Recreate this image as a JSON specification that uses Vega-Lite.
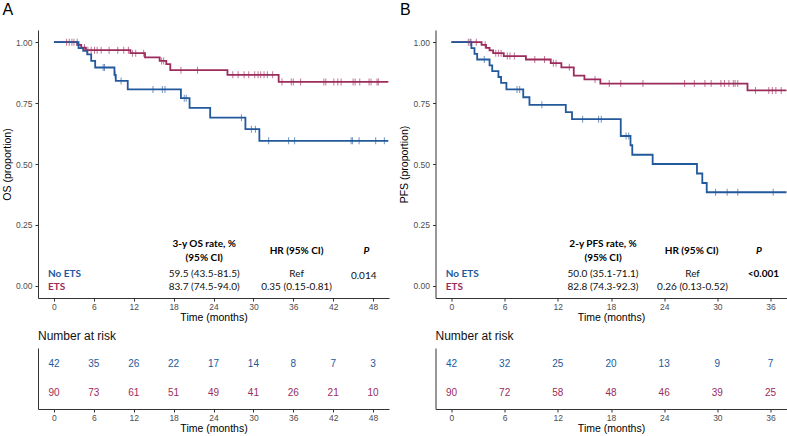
{
  "$schema": "https://vega.github.io/schema/vega-lite/v6.json",
  "background": "white",
  "padding": {"left": 2, "top": 2, "right": 0, "bottom": 0},
  "columns": 2,
  "spacing": {"row": 50, "column": 46.5},
  "bounds": "flush",
  "config": {
    "view": {"stroke": null},
    "axis": {
      "grid": false,
      "domainColor": "#333333",
      "domainWidth": 1,
      "tickColor": "#333333",
      "tickWidth": 1,
      "tickSize": 3,
      "labelColor": "#4d4d4d",
      "labelFont": "Liberation Sans",
      "labelFontSize": 8.5,
      "titleFont": "Liberation Sans",
      "titleFontSize": 10.5,
      "titleFontWeight": "normal",
      "titleColor": "#000000"
    }
  },
  "datasets": {
    "stepsA": [
      {"group": "ETS", "t": 0, "s": 1.0}, {"group": "ETS", "t": 3.5, "s": 0.989}, {"group": "ETS", "t": 4.1, "s": 0.978},
      {"group": "ETS", "t": 4.8, "s": 0.967}, {"group": "ETS", "t": 11.5, "s": 0.955}, {"group": "ETS", "t": 13.7, "s": 0.938},
      {"group": "ETS", "t": 15.9, "s": 0.923}, {"group": "ETS", "t": 16.9, "s": 0.91}, {"group": "ETS", "t": 17.5, "s": 0.885},
      {"group": "ETS", "t": 26.1, "s": 0.866}, {"group": "ETS", "t": 33.8, "s": 0.837}, {"group": "ETS", "t": 50.3, "s": 0.837},
      {"group": "No ETS", "t": 0, "s": 1.0}, {"group": "No ETS", "t": 3.7, "s": 0.976}, {"group": "No ETS", "t": 4.4, "s": 0.964},
      {"group": "No ETS", "t": 5.0, "s": 0.95}, {"group": "No ETS", "t": 5.6, "s": 0.923}, {"group": "No ETS", "t": 6.2, "s": 0.896},
      {"group": "No ETS", "t": 9.1, "s": 0.866}, {"group": "No ETS", "t": 9.3, "s": 0.841}, {"group": "No ETS", "t": 11.1, "s": 0.806},
      {"group": "No ETS", "t": 19.1, "s": 0.77}, {"group": "No ETS", "t": 20.4, "s": 0.73}, {"group": "No ETS", "t": 23.5, "s": 0.69},
      {"group": "No ETS", "t": 28.8, "s": 0.643}, {"group": "No ETS", "t": 30.9, "s": 0.595}, {"group": "No ETS", "t": 50.3, "s": 0.595}
    ],
    "censA": [
      {"group": "ETS", "t": 1.9, "s": 1.0}, {"group": "ETS", "t": 2.3, "s": 1.0}, {"group": "ETS", "t": 2.7, "s": 1.0}, {"group": "ETS", "t": 3.0, "s": 1.0},
      {"group": "ETS", "t": 4.6, "s": 0.978}, {"group": "ETS", "t": 5.1, "s": 0.967}, {"group": "ETS", "t": 5.6, "s": 0.967}, {"group": "ETS", "t": 6.1, "s": 0.967},
      {"group": "ETS", "t": 6.5, "s": 0.967}, {"group": "ETS", "t": 7.1, "s": 0.967}, {"group": "ETS", "t": 8.3, "s": 0.967}, {"group": "ETS", "t": 9.6, "s": 0.967},
      {"group": "ETS", "t": 10.5, "s": 0.967}, {"group": "ETS", "t": 11.2, "s": 0.967}, {"group": "ETS", "t": 11.8, "s": 0.955}, {"group": "ETS", "t": 12.3, "s": 0.955},
      {"group": "ETS", "t": 13.5, "s": 0.955}, {"group": "ETS", "t": 16.2, "s": 0.923}, {"group": "ETS", "t": 16.5, "s": 0.923}, {"group": "ETS", "t": 19.1, "s": 0.885},
      {"group": "ETS", "t": 21.6, "s": 0.885}, {"group": "ETS", "t": 26.9, "s": 0.866}, {"group": "ETS", "t": 27.7, "s": 0.866}, {"group": "ETS", "t": 28.6, "s": 0.866},
      {"group": "ETS", "t": 29.3, "s": 0.866}, {"group": "ETS", "t": 30.2, "s": 0.866}, {"group": "ETS", "t": 30.7, "s": 0.866}, {"group": "ETS", "t": 31.1, "s": 0.866},
      {"group": "ETS", "t": 31.6, "s": 0.866}, {"group": "ETS", "t": 32.1, "s": 0.866}, {"group": "ETS", "t": 32.9, "s": 0.866}, {"group": "ETS", "t": 34.3, "s": 0.837},
      {"group": "ETS", "t": 35.7, "s": 0.837}, {"group": "ETS", "t": 36.0, "s": 0.837}, {"group": "ETS", "t": 37.1, "s": 0.837}, {"group": "ETS", "t": 40.6, "s": 0.837},
      {"group": "ETS", "t": 40.9, "s": 0.837}, {"group": "ETS", "t": 42.1, "s": 0.837}, {"group": "ETS", "t": 42.7, "s": 0.837}, {"group": "ETS", "t": 43.2, "s": 0.837},
      {"group": "ETS", "t": 45.0, "s": 0.837}, {"group": "ETS", "t": 45.3, "s": 0.837}, {"group": "ETS", "t": 46.0, "s": 0.837}, {"group": "ETS", "t": 47.4, "s": 0.837},
      {"group": "ETS", "t": 47.7, "s": 0.837}, {"group": "ETS", "t": 48.6, "s": 0.837}, {"group": "ETS", "t": 48.8, "s": 0.837},
      {"group": "No ETS", "t": 3.5, "s": 1.0}, {"group": "No ETS", "t": 7.4, "s": 0.896}, {"group": "No ETS", "t": 7.6, "s": 0.896}, {"group": "No ETS", "t": 9.2, "s": 0.866},
      {"group": "No ETS", "t": 10.1, "s": 0.841}, {"group": "No ETS", "t": 14.9, "s": 0.806}, {"group": "No ETS", "t": 16.3, "s": 0.806}, {"group": "No ETS", "t": 16.7, "s": 0.806},
      {"group": "No ETS", "t": 19.6, "s": 0.77}, {"group": "No ETS", "t": 19.9, "s": 0.77}, {"group": "No ETS", "t": 28.2, "s": 0.69}, {"group": "No ETS", "t": 29.7, "s": 0.643},
      {"group": "No ETS", "t": 30.3, "s": 0.643}, {"group": "No ETS", "t": 32.3, "s": 0.595}, {"group": "No ETS", "t": 35.3, "s": 0.595}, {"group": "No ETS", "t": 36.2, "s": 0.595},
      {"group": "No ETS", "t": 44.7, "s": 0.595}, {"group": "No ETS", "t": 44.9, "s": 0.595}, {"group": "No ETS", "t": 45.9, "s": 0.595}, {"group": "No ETS", "t": 48.4, "s": 0.595},
      {"group": "No ETS", "t": 49.7, "s": 0.595}
    ],
    "annA": [
      {"kind": "head", "t": 22.6, "s": 0.172, "label": "3-y OS rate, %"},
      {"kind": "head", "t": 22.6, "s": 0.115, "label": "(95% CI)"},
      {"kind": "head", "t": 36.5, "s": 0.143, "label": "HR  (95% CI)"},
      {"kind": "p", "t": 47.0, "s": 0.143, "label": "P"},
      {"kind": "grp", "t": -0.9, "s": 0.049, "label": "No ETS", "group": "No ETS"},
      {"kind": "grp", "t": -0.9, "s": -0.004, "label": "ETS", "group": "ETS"},
      {"kind": "val", "t": 22.6, "s": 0.049, "label": "59.5 (43.5-81.5)"},
      {"kind": "val", "t": 22.6, "s": -0.004, "label": "83.7 (74.5-94.0)"},
      {"kind": "val", "t": 36.5, "s": 0.049, "label": "Ref"},
      {"kind": "val", "t": 36.5, "s": -0.004, "label": "0.35 (0.15-0.81)"},
      {"kind": "val", "t": 46.6, "s": 0.041, "label": "0.014"}
    ],
    "riskA": [
      {"group": "No ETS", "t": 0, "n": 42}, {"group": "No ETS", "t": 6, "n": 35}, {"group": "No ETS", "t": 12, "n": 26},
      {"group": "No ETS", "t": 18, "n": 22}, {"group": "No ETS", "t": 24, "n": 17}, {"group": "No ETS", "t": 30, "n": 14},
      {"group": "No ETS", "t": 36, "n": 8}, {"group": "No ETS", "t": 42, "n": 7}, {"group": "No ETS", "t": 48, "n": 3},
      {"group": "ETS", "t": 0, "n": 90}, {"group": "ETS", "t": 6, "n": 73}, {"group": "ETS", "t": 12, "n": 61},
      {"group": "ETS", "t": 18, "n": 51}, {"group": "ETS", "t": 24, "n": 49}, {"group": "ETS", "t": 30, "n": 41},
      {"group": "ETS", "t": 36, "n": 26}, {"group": "ETS", "t": 42, "n": 21}, {"group": "ETS", "t": 48, "n": 10}
    ],
    "stepsB": [
      {"group": "ETS", "t": 0, "s": 1.0}, {"group": "ETS", "t": 3.4, "s": 0.989}, {"group": "ETS", "t": 3.9, "s": 0.977},
      {"group": "ETS", "t": 4.3, "s": 0.966}, {"group": "ETS", "t": 4.7, "s": 0.955}, {"group": "ETS", "t": 5.9, "s": 0.943},
      {"group": "ETS", "t": 8.4, "s": 0.929}, {"group": "ETS", "t": 11.2, "s": 0.914}, {"group": "ETS", "t": 12.4, "s": 0.897},
      {"group": "ETS", "t": 13.8, "s": 0.863}, {"group": "ETS", "t": 15.0, "s": 0.847}, {"group": "ETS", "t": 16.8, "s": 0.83},
      {"group": "ETS", "t": 33.4, "s": 0.802}, {"group": "ETS", "t": 37.8, "s": 0.802},
      {"group": "No ETS", "t": 0, "s": 1.0}, {"group": "No ETS", "t": 2.25, "s": 0.976}, {"group": "No ETS", "t": 2.6, "s": 0.952},
      {"group": "No ETS", "t": 2.9, "s": 0.929}, {"group": "No ETS", "t": 4.3, "s": 0.905}, {"group": "No ETS", "t": 4.6, "s": 0.881},
      {"group": "No ETS", "t": 5.3, "s": 0.857}, {"group": "No ETS", "t": 5.6, "s": 0.833}, {"group": "No ETS", "t": 6.2, "s": 0.806},
      {"group": "No ETS", "t": 8.1, "s": 0.774}, {"group": "No ETS", "t": 8.8, "s": 0.743}, {"group": "No ETS", "t": 12.9, "s": 0.713},
      {"group": "No ETS", "t": 13.6, "s": 0.684}, {"group": "No ETS", "t": 19.1, "s": 0.615}, {"group": "No ETS", "t": 20.2, "s": 0.577},
      {"group": "No ETS", "t": 20.4, "s": 0.538}, {"group": "No ETS", "t": 22.7, "s": 0.5}, {"group": "No ETS", "t": 27.7, "s": 0.461},
      {"group": "No ETS", "t": 28.3, "s": 0.422}, {"group": "No ETS", "t": 28.8, "s": 0.384}, {"group": "No ETS", "t": 37.8, "s": 0.384}
    ],
    "censB": [
      {"group": "ETS", "t": 1.9, "s": 1.0}, {"group": "ETS", "t": 2.2, "s": 1.0}, {"group": "ETS", "t": 2.8, "s": 1.0}, {"group": "ETS", "t": 3.8, "s": 0.989},
      {"group": "ETS", "t": 5.0, "s": 0.955}, {"group": "ETS", "t": 5.3, "s": 0.955}, {"group": "ETS", "t": 5.6, "s": 0.955}, {"group": "ETS", "t": 6.3, "s": 0.943},
      {"group": "ETS", "t": 6.6, "s": 0.943}, {"group": "ETS", "t": 7.1, "s": 0.943}, {"group": "ETS", "t": 9.4, "s": 0.929}, {"group": "ETS", "t": 10.5, "s": 0.929},
      {"group": "ETS", "t": 11.5, "s": 0.914}, {"group": "ETS", "t": 11.8, "s": 0.914}, {"group": "ETS", "t": 13.3, "s": 0.897}, {"group": "ETS", "t": 16.2, "s": 0.847},
      {"group": "ETS", "t": 17.8, "s": 0.83}, {"group": "ETS", "t": 19.1, "s": 0.83}, {"group": "ETS", "t": 21.6, "s": 0.83}, {"group": "ETS", "t": 26.3, "s": 0.83},
      {"group": "ETS", "t": 27.4, "s": 0.83}, {"group": "ETS", "t": 28.6, "s": 0.83}, {"group": "ETS", "t": 29.3, "s": 0.83}, {"group": "ETS", "t": 30.4, "s": 0.83},
      {"group": "ETS", "t": 30.8, "s": 0.83}, {"group": "ETS", "t": 31.3, "s": 0.83}, {"group": "ETS", "t": 31.8, "s": 0.83}, {"group": "ETS", "t": 32.0, "s": 0.83},
      {"group": "ETS", "t": 32.3, "s": 0.83}, {"group": "ETS", "t": 34.3, "s": 0.802}, {"group": "ETS", "t": 35.8, "s": 0.802}, {"group": "ETS", "t": 36.2, "s": 0.802},
      {"group": "ETS", "t": 36.6, "s": 0.802}, {"group": "ETS", "t": 37.2, "s": 0.802},
      {"group": "No ETS", "t": 2.1, "s": 1.0}, {"group": "No ETS", "t": 3.7, "s": 0.929}, {"group": "No ETS", "t": 7.4, "s": 0.806}, {"group": "No ETS", "t": 7.7, "s": 0.806},
      {"group": "No ETS", "t": 10.2, "s": 0.743}, {"group": "No ETS", "t": 14.8, "s": 0.684}, {"group": "No ETS", "t": 16.6, "s": 0.684}, {"group": "No ETS", "t": 16.9, "s": 0.684},
      {"group": "No ETS", "t": 19.7, "s": 0.615}, {"group": "No ETS", "t": 20.0, "s": 0.615}, {"group": "No ETS", "t": 29.8, "s": 0.384}, {"group": "No ETS", "t": 31.1, "s": 0.384},
      {"group": "No ETS", "t": 32.3, "s": 0.384}, {"group": "No ETS", "t": 36.3, "s": 0.384}
    ],
    "annB": [
      {"kind": "head", "t": 17.1, "s": 0.172, "label": "2-y PFS rate, %"},
      {"kind": "head", "t": 17.1, "s": 0.115, "label": "(95% CI)"},
      {"kind": "head", "t": 27.1, "s": 0.143, "label": "HR  (95% CI)"},
      {"kind": "p", "t": 34.7, "s": 0.143, "label": "P"},
      {"kind": "grp", "t": -0.64, "s": 0.049, "label": "No ETS", "group": "No ETS"},
      {"kind": "grp", "t": -0.64, "s": -0.004, "label": "ETS", "group": "ETS"},
      {"kind": "val", "t": 17.1, "s": 0.049, "label": "50.0 (35.1-71.1)"},
      {"kind": "val", "t": 17.1, "s": -0.004, "label": "82.8 (74.3-92.3)"},
      {"kind": "val", "t": 27.2, "s": 0.049, "label": "Ref"},
      {"kind": "val", "t": 27.2, "s": -0.004, "label": "0.26 (0.13-0.52)"},
      {"kind": "head", "t": 35.2, "s": 0.049, "label": "<0.001"}
    ],
    "riskB": [
      {"group": "No ETS", "t": 0, "n": 42}, {"group": "No ETS", "t": 6, "n": 32}, {"group": "No ETS", "t": 12, "n": 25},
      {"group": "No ETS", "t": 18, "n": 20}, {"group": "No ETS", "t": 24, "n": 13}, {"group": "No ETS", "t": 30, "n": 9},
      {"group": "No ETS", "t": 36, "n": 7},
      {"group": "ETS", "t": 0, "n": 90}, {"group": "ETS", "t": 6, "n": 72}, {"group": "ETS", "t": 12, "n": 58},
      {"group": "ETS", "t": 18, "n": 48}, {"group": "ETS", "t": 24, "n": 46}, {"group": "ETS", "t": 30, "n": 39},
      {"group": "ETS", "t": 36, "n": 25}
    ]
  },
  "concat": [
    {
      "width": 351, "height": 268,
      "title": {"text": "A", "anchor": "start", "frame": "bounds", "fontSize": 16, "fontWeight": "normal", "font": "Liberation Sans", "color": "#000000", "offset": 12},
      "layer": [
        {
          "data": {"name": "stepsA"},
          "mark": {"type": "line", "interpolate": "step-after", "strokeWidth": 1.8},
          "encoding": {
            "x": {"field": "t", "type": "quantitative", "scale": {"domain": [-2.4, 50.4], "nice": false, "zero": false},
                  "axis": {"values": [0, 6, 12, 18, 24, 30, 36, 42, 48], "title": "Time (months)", "labelPadding": 1, "titlePadding": 2}},
            "y": {"field": "s", "type": "quantitative", "scale": {"domain": [-0.05, 1.05], "nice": false, "zero": false},
                  "axis": {"values": [0, 0.25, 0.5, 0.75, 1], "format": ".2f", "title": "OS (proportion)", "labelPadding": 3, "titlePadding": 3}},
            "color": {"field": "group", "type": "nominal", "scale": {"domain": ["No ETS", "ETS"], "range": ["#22599c", "#9c2b5c"]}, "legend": null}
          }
        },
        {
          "data": {"name": "censA"},
          "mark": {"type": "tick", "orient": "vertical", "size": 7, "thickness": 1, "opacity": 0.65},
          "encoding": {
            "x": {"field": "t", "type": "quantitative"},
            "y": {"field": "s", "type": "quantitative"},
            "color": {"field": "group", "type": "nominal", "legend": null}
          }
        },
        {
          "data": {"name": "annA"},
          "transform": [{"filter": "datum.kind == 'head'"}],
          "mark": {"type": "text", "font": "Lato", "fontSize": 10, "fontWeight": "bold", "align": "center", "baseline": "middle", "color": "#000000"},
          "encoding": {"x": {"field": "t", "type": "quantitative"}, "y": {"field": "s", "type": "quantitative"}, "text": {"field": "label"}}
        },
        {
          "data": {"name": "annA"},
          "transform": [{"filter": "datum.kind == 'p'"}],
          "mark": {"type": "text", "font": "Lato", "fontSize": 10, "fontWeight": "bold", "fontStyle": "italic", "align": "center", "baseline": "middle", "color": "#000000"},
          "encoding": {"x": {"field": "t", "type": "quantitative"}, "y": {"field": "s", "type": "quantitative"}, "text": {"field": "label"}}
        },
        {
          "data": {"name": "annA"},
          "transform": [{"filter": "datum.kind == 'val'"}],
          "mark": {"type": "text", "font": "Lato", "fontSize": 10, "align": "center", "baseline": "middle", "color": "#111111"},
          "encoding": {"x": {"field": "t", "type": "quantitative"}, "y": {"field": "s", "type": "quantitative"}, "text": {"field": "label"}}
        },
        {
          "data": {"name": "annA"},
          "transform": [{"filter": "datum.kind == 'grp'"}],
          "mark": {"type": "text", "font": "Lato", "fontSize": 10, "fontWeight": "bold", "align": "left", "baseline": "middle"},
          "encoding": {"x": {"field": "t", "type": "quantitative"}, "y": {"field": "s", "type": "quantitative"}, "text": {"field": "label"},
                       "color": {"field": "group", "type": "nominal", "legend": null}}
        }
      ]
    },
    {
      "width": 351, "height": 268,
      "title": {"text": "B", "anchor": "start", "frame": "bounds", "fontSize": 16, "fontWeight": "normal", "font": "Liberation Sans", "color": "#000000", "offset": 12},
      "layer": [
        {
          "data": {"name": "stepsB"},
          "mark": {"type": "line", "interpolate": "step-after", "strokeWidth": 1.8},
          "encoding": {
            "x": {"field": "t", "type": "quantitative", "scale": {"domain": [-1.8, 37.8], "nice": false, "zero": false},
                  "axis": {"values": [0, 6, 12, 18, 24, 30, 36], "title": "Time (months)", "labelPadding": 1, "titlePadding": 2}},
            "y": {"field": "s", "type": "quantitative", "scale": {"domain": [-0.05, 1.05], "nice": false, "zero": false},
                  "axis": {"values": [0, 0.25, 0.5, 0.75, 1], "format": ".2f", "title": "PFS (proportion)", "labelPadding": 3, "titlePadding": 3}},
            "color": {"field": "group", "type": "nominal", "scale": {"domain": ["No ETS", "ETS"], "range": ["#22599c", "#9c2b5c"]}, "legend": null}
          }
        },
        {
          "data": {"name": "censB"},
          "mark": {"type": "tick", "orient": "vertical", "size": 7, "thickness": 1, "opacity": 0.65},
          "encoding": {
            "x": {"field": "t", "type": "quantitative"},
            "y": {"field": "s", "type": "quantitative"},
            "color": {"field": "group", "type": "nominal", "legend": null}
          }
        },
        {
          "data": {"name": "annB"},
          "transform": [{"filter": "datum.kind == 'head'"}],
          "mark": {"type": "text", "font": "Lato", "fontSize": 10, "fontWeight": "bold", "align": "center", "baseline": "middle", "color": "#000000"},
          "encoding": {"x": {"field": "t", "type": "quantitative"}, "y": {"field": "s", "type": "quantitative"}, "text": {"field": "label"}}
        },
        {
          "data": {"name": "annB"},
          "transform": [{"filter": "datum.kind == 'p'"}],
          "mark": {"type": "text", "font": "Lato", "fontSize": 10, "fontWeight": "bold", "fontStyle": "italic", "align": "center", "baseline": "middle", "color": "#000000"},
          "encoding": {"x": {"field": "t", "type": "quantitative"}, "y": {"field": "s", "type": "quantitative"}, "text": {"field": "label"}}
        },
        {
          "data": {"name": "annB"},
          "transform": [{"filter": "datum.kind == 'val'"}],
          "mark": {"type": "text", "font": "Lato", "fontSize": 10, "align": "center", "baseline": "middle", "color": "#111111"},
          "encoding": {"x": {"field": "t", "type": "quantitative"}, "y": {"field": "s", "type": "quantitative"}, "text": {"field": "label"}}
        },
        {
          "data": {"name": "annB"},
          "transform": [{"filter": "datum.kind == 'grp'"}],
          "mark": {"type": "text", "font": "Lato", "fontSize": 10, "fontWeight": "bold", "align": "left", "baseline": "middle"},
          "encoding": {"x": {"field": "t", "type": "quantitative"}, "y": {"field": "s", "type": "quantitative"}, "text": {"field": "label"},
                       "color": {"field": "group", "type": "nominal", "legend": null}}
        }
      ]
    },
    {
      "width": 351, "height": 61,
      "title": {"text": "Number at risk", "anchor": "start", "frame": "group", "fontSize": 12, "fontWeight": "normal", "font": "Liberation Sans", "color": "#111111", "offset": 5},
      "data": {"name": "riskA"},
      "mark": {"type": "text", "font": "Liberation Sans", "fontSize": 10},
      "encoding": {
        "x": {"field": "t", "type": "quantitative", "scale": {"domain": [-2.4, 50.4], "nice": false, "zero": false},
              "axis": {"values": [0, 6, 12, 18, 24, 30, 36, 42, 48], "title": "Time (months)", "labelPadding": 1, "titlePadding": 2}},
        "y": {"field": "group", "type": "nominal", "sort": ["No ETS", "ETS"], "scale": {"padding": 0.58},
              "axis": {"labels": false, "ticks": false, "title": null, "domain": true}},
        "text": {"field": "n", "type": "quantitative"},
        "color": {"field": "group", "type": "nominal", "legend": null}
      }
    },
    {
      "width": 351, "height": 61,
      "title": {"text": "Number at risk", "anchor": "start", "frame": "group", "fontSize": 12, "fontWeight": "normal", "font": "Liberation Sans", "color": "#111111", "offset": 5},
      "data": {"name": "riskB"},
      "mark": {"type": "text", "font": "Liberation Sans", "fontSize": 10},
      "encoding": {
        "x": {"field": "t", "type": "quantitative", "scale": {"domain": [-1.8, 37.8], "nice": false, "zero": false},
              "axis": {"values": [0, 6, 12, 18, 24, 30, 36], "title": "Time (months)", "labelPadding": 1, "titlePadding": 2}},
        "y": {"field": "group", "type": "nominal", "sort": ["No ETS", "ETS"], "scale": {"padding": 0.58},
              "axis": {"labels": false, "ticks": false, "title": null, "domain": true}},
        "text": {"field": "n", "type": "quantitative"},
        "color": {"field": "group", "type": "nominal", "legend": null}
      }
    }
  ]
}
